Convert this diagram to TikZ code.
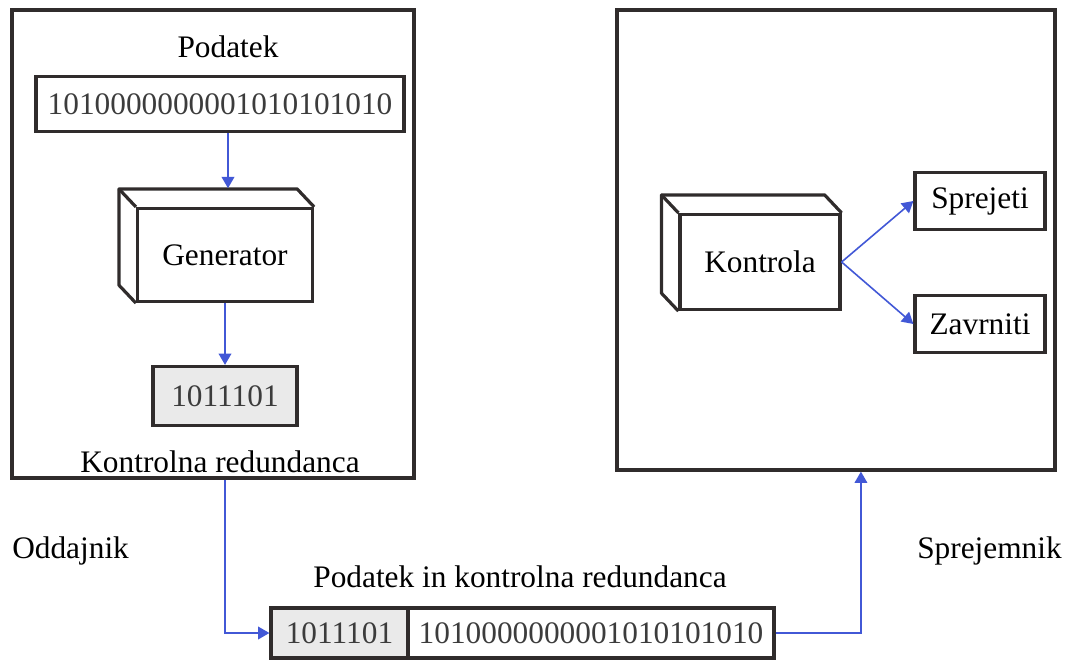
\documentclass[tikz,border=0pt]{standalone}
\usepackage{fontspec}
\setmainfont{LiberationSerif}[Extension=.ttf,UprightFont=*-Regular,BoldFont=*-Bold]
\usetikzlibrary{arrows.meta,calc}
\definecolor{edge}{RGB}{48,44,44}
\definecolor{flow}{RGB}{66,88,214}
\definecolor{shade}{RGB}{234,234,234}
\definecolor{digit}{RGB}{60,60,60}
\begin{document}
\begin{tikzpicture}[x=0.75pt,y=-0.75pt,
  every node/.style={font=\rmfamily\fontsize{23.5}{28}\selectfont},
  frame/.style={draw=edge,line width=2.4pt},
  box/.style={draw=edge,line width=2.4pt,inner sep=0pt,minimum height=#1},
  box/.default=41pt,
  bits/.style={text=digit},
  label/.style={inner sep=0pt},
  arr/.style={draw=flow,line width=1.2pt,-{Triangle[length=8.5pt,width=9.5pt]}},
  back/.style={draw=edge,line width=2.4pt,line join=round}]
\useasboundingbox (0,0) rectangle (1067,665);

% sender and receiver frames
\node[frame,minimum width=301.5pt,minimum height=351pt] (oddajnik) at (213,244) {};
\node[frame,minimum width=328.5pt,minimum height=345pt] (sprejemnik) at (836,240) {};

% sender contents
\node[label] (lpod) at (228,47) {Podatek};
\node[box,minimum width=276pt,bits] (data) at (220,104) {1010000000001010101010};
\node[box=69.75pt,minimum width=131.25pt] (gen) at (225,255) {Generator};
\node[box=44.25pt,minimum width=108pt,fill=shade,bits] (crc) at (225,396) {1011101};
\node[label] (lcrc) at (220,462) {Kontrolna redundanca};

% receiver contents
\node[box=71.25pt,minimum width=120pt] (kon) at (760,262) {Kontrola};
\node[box=42.75pt,minimum width=97.5pt] (ok) at (980,201) {Sprejeti};
\node[box=42.75pt,minimum width=97.5pt] (no) at (980,324) {Zavrniti};

% side labels
\node[label,anchor=west] (lodd) at (12,551) {Oddajnik};
\node[label,anchor=east] (lspr) at (1062,551) {Sprejemnik};

% transmitted frame
\node[label] (lframe) at (520,577) {Podatek in kontrolna redundanca};
\node[box=37.5pt,minimum width=102.75pt,fill=shade,bits] (bcrc) at (339.5,633) {1011101};
\node[box=37.5pt,minimum width=274.5pt,bits] (bdat) at (591,633) {1010000000001010101010};

% depth faces of the two blocks
\foreach \n in {gen,kon}{
  \draw[back] (\n.north east) -- ++(-12.75pt,13.5pt)
    -- ($(\n.north west)+(-12.75pt,13.5pt)$)
    -- ($(\n.south west)+(-12.75pt,13.5pt)$) -- (\n.south west);
  \draw[back] (\n.north west) -- ++(-12.75pt,13.5pt);
}

% flow
\draw[arr] ([xshift=6pt]data.south) -- ([xshift=6pt,yshift=14pt]data.south |- gen.north);
\draw[arr] (gen.south) -- (crc.north);
\draw[arr] (kon.east) -- (ok.west);
\draw[arr] (kon.east) -- (no.west);
\draw[arr] (crc.south |- oddajnik.south) -- (crc.south |- bcrc.west) -- (bcrc.west);
\draw[arr] (bdat.east) -- ++(64pt,0) coordinate (bend) -- (bend |- sprejemnik.south);
\end{tikzpicture}
\end{document}
